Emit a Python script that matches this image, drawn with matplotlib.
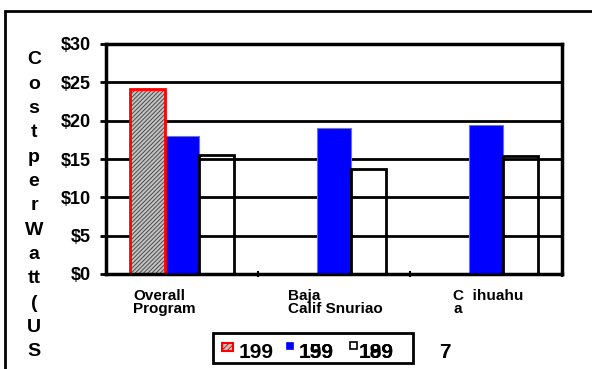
import matplotlib
matplotlib.use("Agg")
import matplotlib.pyplot as plt
from matplotlib.patches import Rectangle
import numpy as np

plt.rcParams["font.family"] = ["Liberation Sans", "DejaVu Sans"]
plt.rcParams["font.weight"] = "bold"
plt.rcParams["hatch.linewidth"] = 0.7

categories = ["Overall\nProgram", "Baja\nCalif Snuriao", "C  ihuahu\na"]
series_a = [24.1, np.nan, np.nan]
series_b = [18.0, 19.0, 19.4]
series_c = [15.5, 13.7, 15.4]
y_ticks = [0, 5, 10, 15, 20, 25, 30]
y_label_lines = ["C", "o", "s", "t", "p", "e", "r", "W", "a", "tt", "(", "U", "S"]

W, H = 592, 369
fig = plt.figure(figsize=(W / 100, H / 100), dpi=100)

# outer frame, running off the right and bottom edges
fig.patches.append(Rectangle((5 / W, -0.1), 1.2, 1.1 - 11 / H, transform=fig.transFigure,
                             fill=False, edgecolor="black", linewidth=2, zorder=0))

ax = fig.add_axes([106 / W, (H - 274) / H, 456 / W, 230 / H])
x = np.arange(len(categories))
bw = 0.23

for yv in y_ticks[1:]:
    ax.axhline(yv, color="black", linewidth=2, zorder=2)

# hatched series: gray hatch with a red outline
ax.bar(x - bw, series_a, bw, color="#c4c4c4", hatch="////////", edgecolor="#4a4a4a",
       linewidth=0, zorder=3)
ax.bar(x - bw, series_a, bw, fill=False, edgecolor="#ff0000", linewidth=2, zorder=4)
ax.bar(x, series_b, bw, color="#0000ff", edgecolor="#6a6aff", linewidth=0.8, zorder=3)
ax.bar(x + bw, series_c, bw, fill=False, edgecolor="black", linewidth=2, zorder=4)

ax.set_xlim(-0.5, 2.5)
ax.set_ylim(0, 30)
ax.set_yticks(y_ticks)
ax.set_yticklabels([f"${v}" for v in y_ticks], fontsize=13, fontweight="bold")
ax.tick_params(axis="y", length=4, width=2, pad=7)
ax.set_xticks([0.5, 1.5, 2.5])
ax.set_xticklabels([])
ax.tick_params(axis="x", length=4, width=1.5, direction="inout")
for s in ax.spines.values():
    s.set_linewidth(2.5)
    s.set_zorder(5)

# category names, left aligned under each group
for xpos, name in zip([-0.322, 0.697, 1.783], categories):
    ax.text(xpos, -2.0, name, ha="left", va="top", fontsize=11, fontweight="bold",
            linespacing=0.9, transform=ax.transData, clip_on=False)

# stacked vertical axis title
for i, ch in enumerate(y_label_lines):
    fig.text(34 / W, 1 - (60 + i * 24.3) / H, ch, ha="center", va="center",
             fontsize=14, fontweight="bold")

# legend box
fig.patches.append(Rectangle((213 / W, 1 - 363 / H), 200 / W, 30 / H,
                             transform=fig.transFigure, fill=False,
                             edgecolor="black", linewidth=2))
fig.patches.append(Rectangle((222 / W, 1 - 351 / H), 11 / W, 8 / H, transform=fig.transFigure,
                             facecolor="#c4c4c4", hatch="//////", edgecolor="#ff0000",
                             linewidth=1.5))
fig.patches.append(Rectangle((286 / W, 1 - 349 / H), 7 / W, 7 / H, transform=fig.transFigure,
                             facecolor="#0000ff", edgecolor="#0000ff", linewidth=0.5))
fig.patches.append(Rectangle((350 / W, 1 - 349 / H), 7 / W, 7 / H, transform=fig.transFigure,
                             facecolor="white", edgecolor="black", linewidth=1.2))
leg_kw = dict(fontsize=15, fontweight="bold", ha="left", va="baseline")
fig.text(239 / W, 1 - 358 / H, "199", **leg_kw)
fig.text(299 / W, 1 - 358 / H, "159", **leg_kw)
fig.text(299 / W, 1 - 358 / H, "199", **leg_kw)
fig.text(359 / W, 1 - 358 / H, "199", **leg_kw)
fig.text(359 / W, 1 - 358 / H, "189", **leg_kw)
fig.text(439 / W, 1 - 358 / H, "7", **leg_kw)

fig.savefig("out.png", dpi=100)
